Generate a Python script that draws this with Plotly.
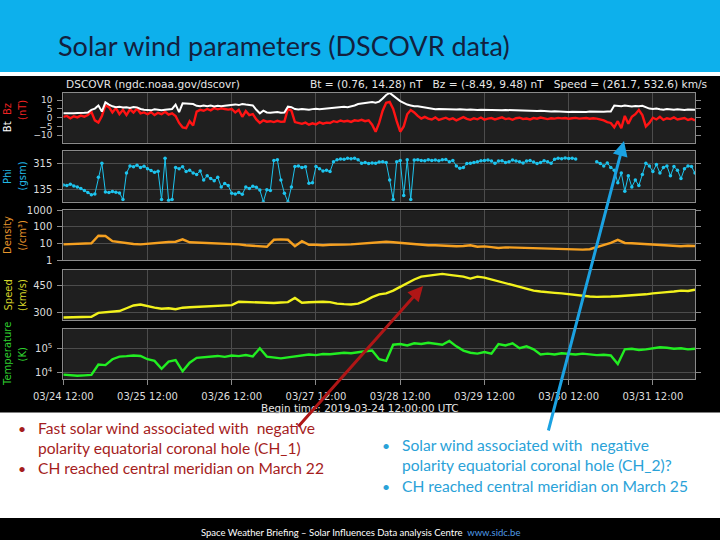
import pandas as pd
import plotly.graph_objects as go

W, H = 720, 540


def fx(p):
    return p / W


def fy(p):
    return 1 - p / H


# ---------------- data ----------------
start_time = "2019-03-24 12:00"
end_time = "2019-04-01 00:00"

# hourly magnetic field (nT)
bt = [2.5, 2.4, 2.6, 2.5, 2.7, 2.6, 2.8, 3.0,
      4.5, 5.2, 7.0, 3.5,
      8.8, 7.5, 6.5, 6.0, 6.2, 5.8, 6.0, 5.5, 6.1, 5.9, 5.0, 4.6,
      4.5, 4.2, 4.8, 4.5, 4.3, 4.6, 4.9, 5.0,
      7.5, 3.2, 8.2, 8.0, 7.6, 7.8,
      6.8, 6.5, 7.0, 6.6, 6.9, 6.4, 6.8, 6.5, 6.8, 7.0,
      7.4, 7.6, 7.2, 7.8, 7.5, 7.3, 7.0, 4.5, 2.5, 4.0,
      3.0, 2.8, 2.9, 3.2, 2.8, 3.0,
      6.3, 6.0,
      4.9, 4.7, 5.0, 4.8, 4.6, 4.9, 5.1, 4.8, 5.0, 5.2, 5.4,
      5.8, 6.0, 5.8, 6.2, 6.0, 6.4, 7.0, 7.8,
      8.2, 8.5, 8.8, 9.0, 8.6, 9.2, 11.0, 13.0,
      14.2, 12.5, 11.0, 9.5, 8.5,
      7.5, 7.0, 6.5, 6.6, 6.2, 6.0,
      5.2, 5.0, 4.8, 5.0, 4.9, 4.7, 4.8, 4.6, 4.7, 4.8, 4.5, 4.6, 4.7,
      4.5, 4.4, 4.6, 4.5, 4.3, 4.4, 4.5, 4.3, 4.2, 4.4, 4.3, 4.2, 4.1,
      4.3, 4.0, 4.1, 3.9, 4.0, 3.8, 3.9, 3.7, 3.8, 3.6, 3.7, 3.5,
      3.4, 3.5, 3.3, 3.4, 3.3, 3.2, 3.4, 3.3, 3.5, 3.4, 3.3, 3.5, 3.4, 3.6, 3.5,
      7.0, 6.8, 6.5, 6.9, 6.6, 6.4, 6.7, 6.5, 6.8,
      5.8, 5.2, 5.0, 5.3, 4.8, 4.6, 5.0, 4.7, 4.5, 4.8, 4.6, 4.4, 4.7, 4.5, 4.6]

bz = [0.5, 1.0, -0.3, 0.8, 0.2, 1.2, 0.6, 1.5,
      3.4, -1.5, -2.8, 1.0,
      7.0, 6.0, 3.0, 5.5, 2.0, 4.5, 1.5, 4.8, 3.0, 5.2, 2.5, 3.0,
      2.0, 3.2, 1.5, 2.8, 2.0, 3.4, 1.8, 2.5,
      1.0, -3.0, -5.5, -6.0, -2.0, -4.5,
      3.5, 4.5, 4.0, 5.0, 4.2, 5.5, 4.8, 5.3, 5.0, 4.6,
      5.0, 3.0, 4.5, 0.5, 3.8, 1.5, 2.0, -1.0, -3.0, -1.5,
      -2.3, -2.0, -2.5, -1.8, -2.4, -2.2,
      5.0, 4.0,
      -2.5, -3.0, -3.5, -2.8, -4.0, -3.2, -3.8, -2.6, -3.4, -2.8, -3.0,
      -2.0, -2.5, -1.6, -2.2, -1.8, -2.4, -1.5, -1.8,
      -1.2, -2.0, -1.5, -4.0, -8.0, -3.0, 4.0, 8.5,
      9.0, 5.0, -2.0, -8.0, -5.0,
      2.0, 4.4, 3.0, 1.0, -0.5, 0.5,
      -0.5, -1.0, 0.2, -1.3, -0.6, 0.0, -1.0, -0.4, -1.5, -0.8, 0.3, -0.7, -1.2,
      -0.3, -0.9, 0.1, -1.1, -0.5, -0.2, -1.0, -0.6, 0.2, -0.8, -0.4, -1.2, -0.3,
      0.0, -0.7, -0.5, -1.0, -0.2, -0.6, 0.1, -0.4, -0.8, -0.3, -0.5, -0.1,
      -0.4, -0.2, -0.6, -0.3, -0.1, -0.5, -0.4, -0.2, -0.6, -0.3, -0.5, -0.8, -1.5, -2.5, -3.0,
      -5.5, -2.0, -6.0, 1.0, -3.5, 0.5, 2.0, 4.4, 1.5,
      -5.0, -3.0, 0.0, -1.0, 0.5, -1.2, -0.3, -0.8, 0.2, -1.0, -0.5, -0.2, -1.3, -0.6, -1.5]

# hourly Phi (gsm, degrees); None = data gap
phi = [165, 160, 170, 158, 150, 140, 125, 110, 95, 100, 220, 320,
       115, 110, 118, 112, 108, 60, 250, 300, 295, 305, 290, 298,
       280, 268, 255, 262, 60, 355, 55, 60, 290, 280, 295, 260,
       270, 250, 240, 265, 200, 230, 210, 195, 220, 150, 175, 160,
       105, 100, 110, 98, 150, 140, 155, 148, 128, 45, 130, 125,
       340, 344, 200, 105, 45, 150, 296, 300, 290, 295, 176, 180,
       296, 280, 265, 270, 260, 330, 344, 350, 348, 355, 352, 356,
       345, 320, 325, 318, 322, 320, 328, 330, 325, 200, 60, 330,
       340, 90, 345, 60, 342, 344, 340, 338, 345, 340, 342, 338,
       344, 346, 330, 340, 300, 284, 290, 318, 320, 325, 330, 338,
       340, 342, 336, 320, 335, 338, 325, 330, 342, 336, 330, 322,
       335, 340, 328, 318, 325, 338, 330, 320, 348, 356, 352, 358,
       354, 356, 350, None, None, None, None, None, 330, 318, 300, 322,
       290, 270, 180, 250, 120, 230, 150, 200, 160, 240, 320, 300,
       260, 310, 250, 290, 300, 230, 296, 270, 210, 280, 300, 296, 250]

# two-hourly plasma values
density = [9.0, 9.2, 9.5, 9.8, 10.5, 30, 29, 14, 12,
           10, 9.5, 9, 10, 11, 12, 12.5, 13, 18,
           12, 11.5, 11, 11, 10.5, 10, 9.5, 9, 8,
           7.5, 7, 6.5, 17, 18, 17, 7, 14, 8.5,
           8.5, 8, 8.5, 9, 8.7, 9, 9.5, 10, 10.5,
           12, 13, 12, 11, 10, 9, 8.5, 8, 8,
           7.5, 7.5, 7, 7.2, 8, 6.5, 6.8, 6.2, 5.5,
           6, 5.8, 6.2, 6, 5.6, 5.4, 5.2, 5, 4.8,
           4.6, 4.5, 4.4, 4.6, 6, 8, 11, 17, 11,
           10.5, 10, 9.5, 9, 8.5, 8, 7.5, 7, 7.5,
           7.2]

speed = [275, 276, 278, 277, 279, 300, 303, 306, 310,
         325, 340, 345, 335, 328, 322, 325, 320, 328,
         330, 332, 335, 334, 337, 338, 342, 360, 358,
         356, 354, 355, 353, 356, 358, 380, 355, 357,
         359, 360, 358, 350, 347, 345, 350, 365, 385,
         400, 405, 420, 440, 460, 480, 495, 500, 505,
         510, 505, 500, 495, 485, 495, 490, 480, 470,
         460, 450, 440, 430, 420, 415, 410, 408, 405,
         400, 395, 392, 388, 386, 385, 388, 390, 392,
         395, 398, 400, 405, 410, 412, 415, 420, 418,
         425]

temperature = [8000, 7500, 7200, 7500, 7800, 21000, 20000, 35000, 45000,
               47000, 50000, 48000, 35000, 30000, 14000, 28000, 32000, 11000,
               25000, 40000, 42000, 45000, 48000, 44000, 50000, 47000, 52000,
               46000, 100000, 45000, 40000, 38000, 42000, 45000, 50000, 55000,
               52000, 58000, 56000, 60000, 65000, 62000, 70000, 75000, 80000,
               35000, 30000, 140000, 150000, 130000, 160000, 150000, 170000, 155000,
               140000, 200000, 120000, 80000, 65000, 60000, 70000, 60000, 150000,
               130000, 160000, 100000, 120000, 90000, 55000, 60000, 55000, 62000,
               58000, 55000, 60000, 56000, 52000, 54000, 50000, 22000, 90000,
               95000, 85000, 90000, 100000, 110000, 105000, 95000, 100000, 90000,
               95000]

day_ticks = ["2019-03-24 12:00", "2019-03-25 12:00", "2019-03-26 12:00",
             "2019-03-27 12:00", "2019-03-28 12:00", "2019-03-29 12:00",
             "2019-03-30 12:00", "2019-03-31 12:00"]
day_labels = ["03/24 12:00", "03/25 12:00", "03/26 12:00", "03/27 12:00",
              "03/28 12:00", "03/29 12:00", "03/30 12:00", "03/31 12:00"]

bfield_ticks = [-10, -5, 0, 5, 10]
phi_ticks = [135, 315]
density_ticks = [1, 10, 100, 1000]
speed_ticks = [300, 450]
temp_ticks = [1e4, 1e5]
temp_labels = ["10<sup>4</sup>", "10<sup>5</sup>"]

t_hour = pd.date_range(start_time, periods=len(bt), freq="h")
t_phi = pd.date_range(start_time, periods=len(phi), freq="h")
t_2h = pd.date_range(start_time, periods=len(density), freq="2h")

# ---------------- figure ----------------
fig = go.Figure()

fig.add_trace(go.Scatter(x=t_hour, y=bz, mode="lines", line=dict(color="#ff1414", width=2.4),
                         xaxis="x", yaxis="y", name="Bz"))
fig.add_trace(go.Scatter(x=t_hour, y=bt, mode="lines", line=dict(color="#ffffff", width=2),
                         xaxis="x", yaxis="y", name="Bt"))
fig.add_trace(go.Scatter(x=t_phi, y=phi, mode="lines+markers", line=dict(color="#1ec4ee", width=1),
                         marker=dict(color="#1ec4ee", size=3.5), connectgaps=False,
                         xaxis="x2", yaxis="y2", name="Phi"))
fig.add_trace(go.Scatter(x=t_2h, y=density, mode="lines", line=dict(color="#f5a020", width=2.4),
                         xaxis="x3", yaxis="y3", name="Density"))
fig.add_trace(go.Scatter(x=t_2h, y=speed, mode="lines", line=dict(color="#f2f21c", width=2.4),
                         xaxis="x4", yaxis="y4", name="Speed"))
fig.add_trace(go.Scatter(x=t_2h, y=temperature, mode="lines", line=dict(color="#22ee22", width=2.4),
                         xaxis="x5", yaxis="y5", name="Temperature"))

panels = [(92.7, 142.7), (151.3, 201.7), (210.3, 260.3), (269.7, 320.0), (329.0, 379.3)]
X0, X1 = 63.3, 695.0
frame_col = "#8a8a8a"
grid_col = "#4c4c4c"
tick_font = dict(family="DejaVu Sans", size=10, color="#dcdcdc")

yaxes = [
    dict(range=[-14.28, 14.28], tickvals=bfield_ticks, showgrid=False,
         tickfont=dict(family="DejaVu Sans", size=9, color="#dcdcdc")),
    dict(range=[45, 405], tickvals=phi_ticks, showgrid=True),
    dict(type="log", range=[0, 3], tickvals=density_ticks,
         ticktext=[str(v) for v in density_ticks], showgrid=True),
    dict(range=[261.7, 532.6], tickvals=speed_ticks, showgrid=True),
    dict(type="log", range=[3.71, 5.80], tickvals=temp_ticks, ticktext=temp_labels, showgrid=True),
]

layout = dict(width=W, height=H, margin=dict(l=0, r=0, t=0, b=0, autoexpand=False),
              paper_bgcolor="#ffffff", plot_bgcolor="rgba(0,0,0,0)", showlegend=False)

for i, (top, bot) in enumerate(panels):
    n = "" if i == 0 else str(i + 1)
    xa = dict(domain=[fx(X0), fx(X1)], anchor="y" + n, type="date", automargin=False,
              range=[start_time, end_time], tickvals=day_ticks, ticktext=day_labels,
              showticklabels=(i == 4), showgrid=True, gridcolor=grid_col, gridwidth=1,
              showline=True, linecolor=frame_col, linewidth=1, mirror=True, zeroline=False,
              ticks="outside" if i == 4 else "", ticklen=5, tickcolor=frame_col,
              tickfont=tick_font, ticklabelstandoff=3)
    if i > 0:
        xa["matches"] = "x"
    ya = dict(domain=[fy(bot), fy(top)], anchor="x" + n, automargin=False,
              gridcolor=grid_col, gridwidth=1,
              showline=True, linecolor=frame_col, linewidth=1, mirror="ticks", zeroline=False,
              ticks="outside", ticklen=5, tickcolor=frame_col, tickfont=tick_font,
              ticklabelstandoff=3)
    ya.update(yaxes[i])
    layout["xaxis" + n] = xa
    layout["yaxis" + n] = ya

shapes = [
    dict(type="rect", xref="paper", yref="paper", x0=0, x1=1, y0=fy(72), y1=1,
         fillcolor="#0db0ec", line=dict(width=0), layer="below"),
    dict(type="rect", xref="paper", yref="paper", x0=0, x1=1, y0=fy(412.5), y1=fy(76),
         fillcolor="#000000", line=dict(width=0), layer="below"),
    dict(type="rect", xref="paper", yref="paper", x0=0, x1=1, y0=0, y1=fy(518),
         fillcolor="#000000", line=dict(width=0), layer="below"),
]
for top, bot in panels:
    shapes.append(dict(type="rect", xref="paper", yref="paper", x0=fx(X0), x1=fx(X1),
                       y0=fy(bot), y1=fy(top), fillcolor="#1f1f1f", line=dict(width=0),
                       layer="below"))
layout["shapes"] = shapes

ann = []


def text(x, y, s, size, color, family="Lato", xanchor="left", angle=0, yanchor="middle"):
    ann.append(dict(x=fx(x), y=fy(y), xref="paper", yref="paper", text=s, showarrow=False,
                    xanchor=xanchor, yanchor=yanchor, textangle=angle,
                    font=dict(family=family, size=size, color=color)))


# slide title
text(56, 45, "Solar wind parameters (DSCOVR data)", 27, "#13203e")

# plot header
text(64, 84, "DSCOVR (ngdc.noaa.gov/dscovr)", 10.6, "#e6e6e6", family="DejaVu Sans")
text(709, 84, "Bt = (0.76, 14.28) nT   Bz = (-8.49, 9.48) nT   Speed = (261.7, 532.6) km/s",
     10.6, "#e6e6e6", family="DejaVu Sans", xanchor="right")

# axis titles (rotated)
lab = "DejaVu Sans"
text(7.5, 117.7, "Bt  <span style='color:#ee2222'>Bz</span>", 10, "#ffffff", family=lab,
     xanchor="center", angle=-90)
text(22, 110, "(nT)", 10, "#ee2222", family=lab, xanchor="center", angle=-90)
text(7.5, 176.5, "Phi", 10, "#22b8e6", family=lab, xanchor="center", angle=-90)
text(22, 176.5, "(gsm)", 10, "#22b8e6", family=lab, xanchor="center", angle=-90)
text(7.5, 235.5, "Density", 10, "#e8962c", family=lab, xanchor="center", angle=-90)
text(22, 235.5, "(/cm³)", 10, "#e8962c", family=lab, xanchor="center", angle=-90)
text(7.5, 295, "Speed", 10, "#d6d62a", family=lab, xanchor="center", angle=-90)
text(22, 295, "(km/s)", 10, "#d6d62a", family=lab, xanchor="center", angle=-90)
text(7.5, 354.5, "Temperature", 10, "#2fcf2f", family=lab, xanchor="center", angle=-90)
text(22, 354.5, "(K)", 10, "#2fcf2f", family=lab, xanchor="center", angle=-90)

text(359, 407.5, "Begin time: 2019-03-24 12:00:00 UTC", 10.4, "#e6e6e6", family="DejaVu Sans",
     xanchor="center")

# bullet texts
red = "#a51d1d"
blue = "#2aa2d8"
fs = 15.6
text(16, 428, "•", 14, red)
text(36, 428, "Fast solar wind associated with  negative", fs, red)
text(36, 448, "polarity equatorial coronal hole (CH_1)", fs, red)
text(16, 468, "•", 14, red)
text(36, 468, "CH reached central meridian on March 22", fs, red)

text(380, 445, "•", 14, blue)
text(400, 445, "Solar wind associated with  negative", fs, blue)
text(400, 465, "polarity equatorial coronal hole (CH_2)?", fs, blue)
text(380, 486, "•", 14, blue)
text(400, 486, "CH reached central meridian on March 25", fs, blue)

# footer
text(360, 532, "Space Weather Briefing – Solar Influences Data analysis Centre  "
     "<span style='color:#4f9be6'>www.sidc.be</span>", 9.5, "#ffffff", xanchor="center")

# arrows
ann.append(dict(x=fx(423), y=fy(286), xref="paper", yref="paper", ax=-126, ay=142,
                axref="pixel", ayref="pixel", showarrow=True, arrowhead=2, arrowsize=1,
                arrowwidth=3, arrowcolor="#b01616", text=""))
ann.append(dict(x=fx(624), y=fy(141), xref="paper", yref="paper", ax=-76, ay=291,
                axref="pixel", ayref="pixel", showarrow=True, arrowhead=2, arrowsize=1,
                arrowwidth=3, arrowcolor="#1ba2e2", text=""))
layout["annotations"] = ann

fig.update_layout(**layout)
fig.write_html("out.html", config={"displayModeBar": False},
               post_script="document.body.style.margin='0px';")
